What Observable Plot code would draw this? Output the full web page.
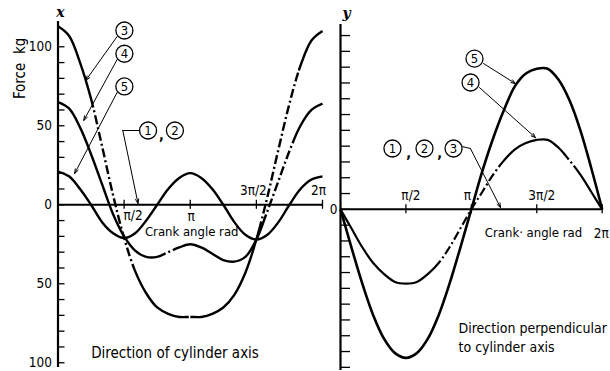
<!DOCTYPE html>
<html><head><meta charset="utf-8">
<script src="https://cdn.jsdelivr.net/npm/d3@7"></script>
<script src="https://cdn.jsdelivr.net/npm/@observablehq/plot@0.6"></script>
<style>
html,body{margin:0;padding:0;background:#fff;}
#chart{position:relative;width:610px;height:371px;overflow:hidden;background:#fff;}
#chart svg{position:absolute;top:0;overflow:visible;}
</style></head>
<body><div id="chart"></div>
<script>
// Crank angle in multiples of π
const crankAngle = [0,0.0833,0.1667,0.25,0.3333,0.4167,0.5,0.5833,0.6667,0.75,0.8333,0.9167,1,1.0833,1.1667,1.25,1.3333,1.4167,1.5,1.5833,1.6667,1.75,1.8333,1.9167,2];

// Direction of cylinder axis (kg)
const axial3 = [113,107,90,67,37,6,-21,-42,-56,-65,-69,-71,-71,-71,-69,-65,-57,-43,-22,5,35,64,88,104,110];
const axial4 = [65,61,49,32,13,-6,-20,-29,-33,-33,-30,-27,-25,-27,-31,-35,-36,-33,-22,-4,15,34,50,60,64];
const axial5 = [21,18,10,0,-11,-18,-21,-18,-10,0,10,17,20,17,10,0,-11,-19,-22,-19,-11,0,10,16,18];

// Direction perpendicular to cylinder axis (kg)
const perp4 = [0,-12,-24,-34,-41,-46,-47,-46,-41,-34,-24,-12,0,11,22,31,38,42,44,44,39,31,22,11,0];
const perp5 = [0,-24,-47,-67,-82,-91,-94,-91,-82,-67,-47,-24,0,24,45,63,78,86,89,89,82,69,50,26,0];

// dash-dot stretches of the curves (multiples of π)
const axial3Dash = [[0.25,0.58],[0.92,1.0],[1.52,1.82]];
const axial4Dash = [[0.75,0.92],[1.55,1.78]];
const perp4Dash = [[0.72,1.25],[1.7,1.82]];

// ticks
const xTickValues = [0.5,1,1.5,2];
const xTickLabels = ["π/2","π","3π/2","2π"];
const leftYTicks = [-100,-90,-80,-70,-60,-50,-40,-30,-20,-10,0,10,20,30,40,50,60,70,80,90,100];
const leftYLabels = [-100,-50,0,50,100];
const rightYTicks = [-100,-90,-80,-70,-60,-50,-40,-30,-20,-10,0,10,20,30,40,50,60,70,80,90,100,110];
const rightYLabels = [0];

// callouts (x in multiples of π, y in kg)
const leftCallouts = [
  {label:"3", x:0.502, y:110.3},
  {label:"4", x:0.502, y:95.6},
  {label:"5", x:0.502, y:74.9},
  {label:"1", x:0.681, y:47.0},
  {label:"2", x:0.884, y:47.0}
];
const leftCommas = [{x:0.782, y:44}];
const leftArrows = [
  {x1:0.447, y1:106.5, x2:0.210, y2:78.7},
  {x1:0.447, y1:91.9, x2:0.195, y2:53.4},
  {x1:0.447, y1:71.1, x2:0.126, y2:19.8},
  {x1:0.490, y1:47.0, x2:0.605, y2:0.8}
];
const leftLeader = [{x:0.612, y:47.0},{x:0.490, y:47.0}];

const rightCallouts = [
  {label:"5", x:1.024, y:95.4},
  {label:"4", x:0.994, y:80.3},
  {label:"1", x:0.397, y:38.5},
  {label:"2", x:0.642, y:38.5},
  {label:"3", x:0.864, y:38.5}
];
const rightCommas = [{x:0.520, y:35.3},{x:0.757, y:35.3}];
const rightArrows = [
  {x1:1.093, y1:92.3, x2:1.337, y2:79.6},
  {x1:1.062, y1:77.1, x2:1.490, y2:45.4},
  {x1:0.993, y1:38.5, x2:1.223, y2:1.1}
];
const rightLeader = [{x:0.932, y:39.7},{x:0.993, y:38.5}];

const leftTexts = [
  {text:"Crank angle rad", x:1.011, y:-17.3},
  {text:"Direction of cylinder axis", x:0.885, y:-94.1}
];
const rightCenterTexts = [
  {text:"Crank· angle rad", x:1.475, y:-14.7}
];
const rightStartTexts = [
  {text:"Direction perpendicular", x:0.902, y:-75.4},
  {text:"to cylinder axis", x:0.902, y:-87.5}
];

// ---- styling ----
const FONT = "'DejaVu Sans Condensed', 'Liberation Sans Narrow', sans-serif";
const leftXLabelOffsets = [[9,11],[1,12],[-3,-14],[-4,-14]];
const rightXLabelOffsets = [[5,-14],[-4,-14],[5,-14],[-1,24]];

const series = v => crankAngle.map((a,i) => ({a, f: v[i]}));

function curve(values, id, width) {
  return Plot.line(series(values), {x:"a", y:"f", curve:"catmull-rom", stroke:"black", strokeWidth: width, strokeLinecap:"butt", ariaDescription: id});
}

function xLabelMarks(offsets) {
  return xTickValues.map((v,i) => Plot.text([v], {x: d=>d, y: 0, text: () => xTickLabels[i], dx: offsets[i][0], dy: offsets[i][1], fontSize: 13.5, fontFamily: FONT}));
}

function calloutMarks(callouts, commas) {
  return [
    Plot.dot(callouts, {x:"x", y:"y", r:8.5, fill:"white", stroke:"black", strokeWidth:1.3}),
    Plot.text(callouts, {x:"x", y:"y", text:"label", fontSize:13, fontFamily: FONT, dy: 0.5}),
    Plot.text(commas, {x:"x", y:"y", text: () => ",", fontSize:14, fontWeight:"bold", fontFamily: FONT})
  ];
}

const left = Plot.plot({
  width: 330, height: 371,
  marginLeft: 57.5, marginRight: 8, marginTop: 21, marginBottom: 4,
  x: {domain:[0,2], axis:null},
  y: {domain:[-103,116], axis:null},
  style: {fontFamily: FONT, background:"transparent", overflow:"visible"},
  marks: [
    Plot.ruleX([0], {strokeWidth:2.2}),
    Plot.ruleY([0], {strokeWidth:2}),
    Plot.ruleY(leftYTicks, {y: d=>d, x1:0, x2:0, insetRight:-7, strokeWidth:1.3}),
    Plot.ruleX(xTickValues, {x: d=>d, y1:0, y2:0, insetTop:-4.5, insetBottom:-4.5, strokeWidth:1.3}),
    Plot.text(leftYLabels, {x:0, y:d=>d, text:d=>String(Math.abs(d)), textAnchor:"end", dx:-6, fontSize:13.5, fontFamily: FONT}),
    ...xLabelMarks(leftXLabelOffsets),
    curve(axial3, "axial3", 2.4),
    curve(axial4, "axial4", 2.4),
    curve(axial5, "axial5", 2.4),
    Plot.line(leftLeader, {x:"x", y:"y", strokeWidth:1}),
    Plot.arrow(leftArrows, {x1:"x1", y1:"y1", x2:"x2", y2:"y2", strokeWidth:1, headLength:7, headAngle:40}),
    ...calloutMarks(leftCallouts, leftCommas),
    Plot.text(leftTexts.slice(0,1), {x:"x", y:"y", text:"text", fontSize:13, fontFamily: FONT}),
    Plot.text(leftTexts.slice(1), {x:"x", y:"y", text:"text", fontSize:15, fontFamily: FONT}),
    Plot.text(["Force  kg"], {x:-0.286, y:86.3, text:d=>d, rotate:-90, fontSize:15, fontFamily: FONT}),
    Plot.text(["x"], {x:0.019, y:121.5, text:d=>d, fontSize:14, fontStyle:"italic", fontWeight:"bold", fontFamily:"'DejaVu Serif', serif"})
  ]
});

const right = Plot.plot({
  width: 280, height: 371,
  marginLeft: 10, marginRight: 8.3, marginTop: 24, marginBottom: 1,
  x: {domain:[0,2], axis:null},
  y: {domain:[-102,117], axis:null},
  style: {fontFamily: FONT, background:"transparent", overflow:"visible"},
  marks: [
    Plot.ruleX([0], {strokeWidth:2.2}),
    Plot.ruleY([0], {strokeWidth:2}),
    Plot.ruleY(rightYTicks, {y: d=>d, x1:0, x2:0, insetRight:-10, strokeWidth:1.3}),
    Plot.ruleX(xTickValues, {x: d=>d, y1:0, y2:0, insetTop:-4.5, insetBottom:-4.5, strokeWidth:1.3}),
    Plot.text(rightYLabels, {x:0, y:d=>d, text:d=>String(d), textAnchor:"end", dx:-3, fontSize:13.5, fontFamily: FONT}),
    ...xLabelMarks(rightXLabelOffsets),
    curve(perp4, "perp4", 2.2),
    curve(perp5, "perp5", 2.6),
    Plot.line(rightLeader, {x:"x", y:"y", strokeWidth:1}),
    Plot.arrow(rightArrows, {x1:"x1", y1:"y1", x2:"x2", y2:"y2", strokeWidth:1, headLength:7, headAngle:40}),
    ...calloutMarks(rightCallouts, rightCommas),
    Plot.text(rightCenterTexts, {x:"x", y:"y", text:"text", fontSize:13, fontFamily: FONT}),
    Plot.text(rightStartTexts, {x:"x", y:"y", text:"text", textAnchor:"start", fontSize:14, fontFamily: FONT}),
    Plot.text(["y"], {x:0.046, y:123.9, text:d=>d, fontSize:14, fontStyle:"italic", fontWeight:"bold", fontFamily:"'DejaVu Serif', serif"})
  ]
});

const chart = document.getElementById("chart");
left.style.left = "0px";
right.style.left = "330px";
chart.appendChild(left);
chart.appendChild(right);

function applyDash(svg, id, ranges) {
  const g = svg.querySelector(`g[aria-description="${id}"]`);
  if (!g) return;
  const path = g.querySelector("path");
  if (!path) return;
  const xs = svg.scale("x");
  const total = path.getTotalLength();
  const lenAt = px => {
    let lo = 0, hi = total;
    for (let i = 0; i < 40; i++) {
      const m = (lo + hi) / 2;
      if (path.getPointAtLength(m).x < px) lo = m; else hi = m;
    }
    return lo;
  };
  const pat = [9,3,2,3];
  const arr = [];
  let pos = 0;
  for (const [a,b] of ranges) {
    const la = lenAt(xs.apply(a)), lb = lenAt(xs.apply(b));
    arr.push(Math.max(0, la - pos), 0);
    let l = la, i = 0;
    while (l < lb) { const s = Math.min(pat[i % 4], lb - l); arr.push(s); l += s; i++; }
    if (i % 2 === 1) arr.push(0);
    pos = lb;
  }
  arr.push(Math.max(0, total - pos), 0);
  path.setAttribute("stroke-dasharray", arr.map(v => v.toFixed(2)).join(" "));
}
applyDash(left, "axial3", axial3Dash);
applyDash(left, "axial4", axial4Dash);
applyDash(right, "perp4", perp4Dash);
</script>
</body></html>
